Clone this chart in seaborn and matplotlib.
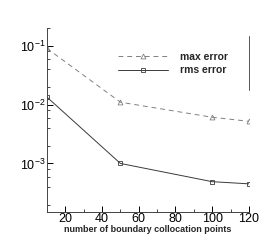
import numpy as np
import pandas as pd
import matplotlib
matplotlib.use("Agg")
import matplotlib.pyplot as plt
import matplotlib.ticker as mticker
import seaborn as sns

# number of boundary collocation points
n_points = [10, 50, 100, 120]
max_error = [0.090, 0.011, 0.0061, 0.0052]
rms_error = [0.0134, 0.00100, 0.00049, 0.00045]


def main():
    sns.set_theme(style="white")
    plt.rcParams["font.family"] = ["Liberation Sans", "DejaVu Sans"]
    plt.rcParams["mathtext.fontset"] = "custom"
    plt.rcParams["mathtext.rm"] = "Liberation Sans"

    df = pd.DataFrame({
        "n": n_points * 2,
        "err": max_error + rms_error,
        "kind": ["max error"] * len(n_points) + ["rms error"] * len(n_points),
    })

    fig = plt.figure(figsize=(2.7, 2.4), dpi=100)
    ax = fig.add_axes([0.174, 0.117, 0.748, 0.766])

    sns.lineplot(data=df, x="n", y="err", hue="kind", style="kind",
                 markers={"max error": "^", "rms error": "s"},
                 dashes={"max error": (5, 4), "rms error": ""},
                 palette={"max error": "#808080", "rms error": "#3a3a3a"},
                 markersize=3.5, markerfacecolor="none", markeredgewidth=0.6,
                 linewidth=0.7, ax=ax)
    for line in ax.lines:
        line.set_markeredgecolor(line.get_color())
        line.set_markerfacecolor("none")

    ax.set_yscale("log")
    ax.set_xlim(10, 120)
    ax.set_ylim(1.5e-4, 0.2)
    ax.xaxis.set_major_locator(mticker.MultipleLocator(20))
    ax.xaxis.set_minor_locator(mticker.MultipleLocator(10))
    ax.yaxis.set_minor_locator(mticker.LogLocator(base=10, subs=[2, 4, 6, 8], numticks=10))
    ax.yaxis.set_minor_formatter(mticker.NullFormatter())
    ax.set_yticks([1e-3, 1e-2, 1e-1])
    ax.set_yticklabels([r"$10^{-3}$", r"$10^{-2}$", r"$10^{-1}$"])

    ax.tick_params(axis="both", which="major", direction="in", length=4,
                   width=0.7, labelsize=9, pad=1, colors="black", bottom=True, left=True)
    ax.tick_params(axis="both", which="minor", direction="in", length=2.5,
                   width=0.6, bottom=True, left=True)
    sns.despine(ax=ax)
    for s in ["left", "bottom"]:
        ax.spines[s].set_color("#444444")
        ax.spines[s].set_linewidth(0.7)

    ax.set_xlabel("number of boundary collocation points", fontsize=6.5,
                  fontweight="bold", labelpad=0)
    ax.set_ylabel("")

    ax.axvline(120, ymin=0.663, ymax=0.957, color="#555555", linewidth=0.7,
               clip_on=False)

    leg = ax.legend(loc="upper left", bbox_to_anchor=(0.325, 0.9), frameon=False,
                    fontsize=7.5, handlelength=4.8, handletextpad=1.2,
                    labelspacing=0.35, borderpad=0)
    for t in leg.get_texts():
        t.set_fontweight("bold")

    fig.savefig("out.png", dpi=100)
    plt.close(fig)


if __name__ == "__main__":
    main()
